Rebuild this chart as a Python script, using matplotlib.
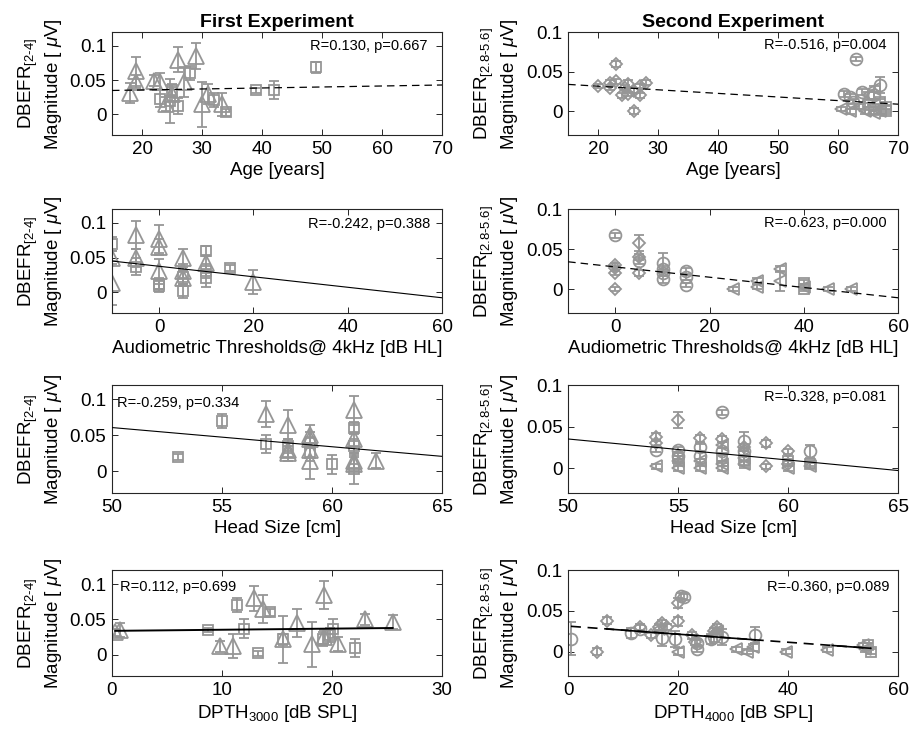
import numpy as np
import matplotlib
matplotlib.use("Agg")
import matplotlib.pyplot as plt

plt.rcParams['font.family'] = ['Liberation Sans', 'DejaVu Sans']
plt.rcParams['mathtext.fontset'] = 'custom'
plt.rcParams['mathtext.rm'] = 'Liberation Sans'
plt.rcParams['mathtext.it'] = 'Liberation Sans:italic'
plt.rcParams['mathtext.bf'] = 'Liberation Sans:bold'

# marker codes: ^ triangle, s square, D diamond, o circle, < left triangle
# --- first experiment, age
p1_x = [18, 19, 19, 22, 23, 24, 25, 26, 27, 29, 30, 31, 33.3,
        23, 24.7, 26, 25, 28, 32, 34, 39, 42, 49]
p1_y = [0.031, 0.063, 0.048, 0.049, 0.048, 0.015, 0.03, 0.08, 0.047, 0.085, 0.015, 0.03, 0.015,
        0.023, 0.02, 0.012, 0.035, 0.06, 0.021, 0.003, 0.035, 0.036, 0.069]
p1_e = [0.015, 0.021, 0.01, 0.008, 0.013, 0.01, 0.01, 0.018, 0.022, 0.019, 0.033, 0.015, 0.017,
        0.012, 0.032, 0.012, 0.01, 0.01, 0.01, 0.005, 0.004, 0.013, 0.008]
p1_m = "^^^^^^^^^^^^^" + "ssssssssss"

# --- second experiment, age
p2_x = [20, 22, 22, 23, 23, 24, 24.5, 25, 25, 26, 26, 27, 27, 28,
        61, 62, 63, 64, 66, 67, 62.5,
        60.5, 62, 63.5, 65, 66, 64.5, 66, 67,
        65, 66, 67, 68, 68]
p2_y = [0.032, 0.036, 0.03, 0.06, 0.038, 0.02, 0.03, 0.035, 0.022, 0.0, 0.026, 0.032, 0.02, 0.036,
        0.022, 0.018, 0.066, 0.024, 0.02, 0.033, 0.012,
        0.003, 0.0, 0.006, 0.02, 0.028, 0.0, -0.002, 0.0,
        0.008, 0.003, 0.012, 0.005, 0.0]
p2_e = [0.003, 0.004, 0.003, 0.004, 0.003, 0.003, 0.003, 0.004, 0.003, 0.004, 0.003, 0.003, 0.003, 0.003,
        0.004, 0.004, 0.003, 0.004, 0.004, 0.01, 0.003,
        0.003, 0.003, 0.003, 0.004, 0.004, 0.003, 0.003, 0.003,
        0.003, 0.003, 0.004, 0.003, 0.003]
p2_m = "DDDDDDDDDDDDDD" + "ooooooo" + "<<<<<<<<" + "sssss"

# --- first experiment, audiometric thresholds
p3_x = [-10, -5, 0, 0, 5, 5, 10, 10, 10, 15,
        -10, -10, -5, -5, 0, 0, 0, 5, 5, 5, 10, 20]
p3_y = [0.07, 0.037, 0.012, 0.009, 0.002, 0.022, 0.06, 0.03, 0.02, 0.035,
        0.05, 0.013, 0.082, 0.05, 0.077, 0.065, 0.03, 0.05, 0.03, 0.02, 0.042, 0.015]
p3_e = [0.01, 0.012, 0.008, 0.008, 0.01, 0.01, 0.006, 0.01, 0.013, 0.004,
        0.01, 0.032, 0.02, 0.013, 0.02, 0.012, 0.018, 0.013, 0.01, 0.01, 0.01, 0.017]
p3_m = "ssssssssss" + "^^^^^^^^^^^^"

# --- second experiment, audiometric thresholds
p4_x = [0, 5, 10, 10, 10, 10, 15, 15, 15,
        0, 0, 0, 5, 5, 5, 0,
        25, 30, 30, 35, 35, 40, 45, 50,
        40, 40]
p4_y = [0.067, 0.035, 0.033, 0.025, 0.02, 0.012, 0.022, 0.015, 0.005,
        0.03, 0.02, 0.0, 0.058, 0.04, 0.02, 0.026,
        0.0, 0.01, 0.003, 0.025, 0.01, 0.003, 0.0, 0.0,
        0.008, 0.0]
p4_e = [0.003, 0.004, 0.012, 0.004, 0.004, 0.004, 0.004, 0.004, 0.003,
        0.003, 0.003, 0.003, 0.01, 0.004, 0.004, 0.003,
        0.003, 0.004, 0.003, 0.004, 0.012, 0.003, 0.003, 0.003,
        0.003, 0.003]
p4_m = "ooooooooo" + "DDDDDDD" + "<<<<<<<<" + "ss"

# --- first experiment, head size
p5_x = [53, 55, 57, 58, 59, 59, 60, 61, 61, 61,
        57, 58, 58, 58, 59, 59, 59, 59, 61, 61, 61, 61, 62]
p5_y = [0.02, 0.07, 0.038, 0.035, 0.025, 0.04, 0.01, 0.06, 0.035, 0.003,
        0.08, 0.065, 0.03, 0.025, 0.05, 0.045, 0.03, 0.015, 0.085, 0.045, 0.015, 0.01, 0.015]
p5_e = [0.004, 0.01, 0.012, 0.01, 0.01, 0.008, 0.013, 0.008, 0.01, 0.02,
        0.018, 0.02, 0.01, 0.01, 0.015, 0.01, 0.01, 0.025, 0.02, 0.01, 0.01, 0.01, 0.01]
p5_m = "ssssssssss" + "^^^^^^^^^^^^^"

# --- second experiment, head size
p6_x = [54, 54, 55, 56, 57, 58, 59, 59, 60, 60,
        54, 55, 55, 56, 56, 57, 57, 58, 58, 61,
        54, 55, 55, 56, 56, 57, 57, 57, 58, 58, 60, 61,
        55, 57, 58, 60, 61]
p6_y = [0.038, 0.03, 0.058, 0.036, 0.035, 0.025, 0.03, 0.002, 0.02, 0.005,
        0.022, 0.022, 0.015, 0.025, 0.015, 0.067, 0.02, 0.033, 0.02, 0.02,
        0.002, 0.0, 0.008, 0.0, 0.008, 0.0, 0.005, 0.028, 0.005, 0.012, 0.0, 0.003,
        0.012, 0.012, 0.01, 0.008, 0.005]
p6_e = [0.004, 0.003, 0.01, 0.004, 0.004, 0.004, 0.004, 0.003, 0.003, 0.003,
        0.003, 0.004, 0.004, 0.004, 0.004, 0.003, 0.004, 0.01, 0.004, 0.008,
        0.003, 0.003, 0.003, 0.003, 0.003, 0.003, 0.003, 0.004, 0.003, 0.003, 0.003, 0.003,
        0.003, 0.004, 0.01, 0.003, 0.003]
p6_m = "DDDDDDDDDD" + "oooooooooo" + "<<<<<<<<<<<<" + "sssss"

# --- first experiment, DPTH 3000
p7_x = [0.3, 0.7, 9.8, 11, 12.9, 13.7, 15.5, 16.8, 18.2, 19.3, 19.3, 20.5, 23, 25.5,
        8.7, 11.4, 12, 13.3, 14.4, 15.5, 19.2, 19.8, 20.1, 22.1]
p7_y = [0.032, 0.035, 0.012, 0.012, 0.08, 0.065, 0.022, 0.045, 0.015, 0.085, 0.025, 0.015, 0.05, 0.047,
        0.035, 0.07, 0.037, 0.002, 0.06, 0.022, 0.022, 0.028, 0.037, 0.01]
p7_e = [0.005, 0.01, 0.008, 0.017, 0.018, 0.02, 0.033, 0.02, 0.032, 0.02, 0.01, 0.01, 0.008, 0.01,
        0.003, 0.01, 0.013, 0.003, 0.005, 0.008, 0.01, 0.01, 0.013, 0.013]
p7_m = "^^^^^^^^^^^^^^" + "ssssssssss"

# --- second experiment, DPTH 4000
p8_x = [0.5, 11.5, 13, 17, 19.5, 20.5, 21, 23.5, 23.5, 26, 26.5, 28, 34,
        5.3, 7, 13, 15, 16.5, 17, 18, 20, 20, 22.5, 23, 26.5, 27,
        16.5, 20, 27, 30.5, 32.5, 33.5, 39.5, 47, 53.5, 54,
        54.5, 55]
p8_y = [0.016, 0.023, 0.028, 0.017, 0.015, 0.068, 0.067, 0.003, 0.01, 0.015, 0.018, 0.018, 0.02,
        0.0, 0.038, 0.03, 0.02, 0.03, 0.035, 0.03, 0.037, 0.06, 0.02, 0.012, 0.025, 0.03,
        0.028, 0.0, 0.025, 0.003, 0.0, 0.005, 0.0, 0.002, 0.008, 0.003,
        0.008, 0.0]
p8_e = [0.02, 0.006, 0.004, 0.01, 0.01, 0.004, 0.004, 0.004, 0.004, 0.006, 0.006, 0.01, 0.01,
        0.004, 0.004, 0.004, 0.003, 0.004, 0.004, 0.004, 0.006, 0.006, 0.004, 0.004, 0.004, 0.004,
        0.004, 0.004, 0.004, 0.003, 0.003, 0.004, 0.003, 0.003, 0.003, 0.003,
        0.003, 0.003]
p8_m = "ooooooooooooo" + "DDDDDDDDDDDDD" + "<<<<<<<<<<" + "ss"

# regression lines: (intercept, slope)
fits = [(0.0328, 0.000145), (0.0408, -0.000455),
        (0.0374, -0.000757), (0.0276, -0.000643),
        (0.1943, -0.002667), (0.1617, -0.002533),
        (0.0339, 0.000159), (0.0312, -0.000495)]
fit_ranges = [(15, 70), (15, 70), (-10, 60), (-10, 60), (50, 65), (50, 65), (0.3, 25.5), (0.5, 55)]
stats = ["R=0.130, p=0.667", "R=-0.516, p=0.004",
         "R=-0.242, p=0.388", "R=-0.623, p=0.000",
         "R=-0.259, p=0.334", "R=-0.328, p=0.081",
         "R=0.112, p=0.699", "R=-0.360, p=0.089"]
xlabels = ["Age [years]", "Age [years]",
           "Audiometric Thresholds@ 4kHz [dB HL]", "Audiometric Thresholds@ 4kHz [dB HL]",
           "Head Size [cm]", "Head Size [cm]",
           "DPTH$_{3000}$ [dB SPL]", "DPTH$_{4000}$ [dB SPL]"]
xlims = [(15, 70), (15, 70), (-10, 60), (-10, 60), (50, 65), (50, 65), (0, 30), (0, 60)]
xticks = [[20, 30, 40, 50, 60, 70], [20, 30, 40, 50, 60, 70],
          [0, 20, 40, 60], [0, 20, 40, 60],
          [50, 55, 60, 65], [50, 55, 60, 65],
          [0, 10, 20, 30], [0, 20, 40, 60]]

GRAY = '#969696'
MS = {'^': 12, 's': 7.5, 'D': 6.5, 'o': 8.5, '<': 9}


def draw_points(ax, x, y, e, m):
    x, y, e = np.array(x), np.array(y), np.array(e)
    codes = np.array(list(m))
    for mk in dict.fromkeys(m):
        sel = codes == mk
        ax.errorbar(x[sel], y[sel], yerr=e[sel], fmt=mk, ms=MS[mk], mfc='none',
                    mec=GRAY, mew=1.3, ecolor=GRAY, elinewidth=1.3,
                    capsize=3.5, capthick=1.3, zorder=2)


fig = plt.figure(figsize=(9.12, 7.51), dpi=100)
lefts = [0.1228, 0.623]
bottoms = [0.8202, 0.5832, 0.3435, 0.0999]
heights = [0.137, 0.1385, 0.1438, 0.141]

panels = [(p1_x, p1_y, p1_e, p1_m), (p2_x, p2_y, p2_e, p2_m),
          (p3_x, p3_y, p3_e, p3_m), (p4_x, p4_y, p4_e, p4_m),
          (p5_x, p5_y, p5_e, p5_m), (p6_x, p6_y, p6_e, p6_m),
          (p7_x, p7_y, p7_e, p7_m), (p8_x, p8_y, p8_e, p8_m)]
line_styles = ['dash', 'dash', 'solid', 'dash', 'solid', 'solid', 'thick', 'mixed']
stat_pos = [(0.955, 0.87, 'right'), (0.964, 0.874, 'right'),
            (0.964, 0.856, 'right'), (0.964, 0.865, 'right'),
            (0.015, 0.833, 'left'), (0.964, 0.886, 'right'),
            (0.024, 0.84, 'left'), (0.973, 0.84, 'right')]
solid_parts = [(7, 34), (48, 55)]

for k in range(8):
    row, col = k // 2, k % 2
    ax = fig.add_axes([lefts[col], bottoms[row], 0.362, heights[row]])
    x, y, e, m = panels[k]
    draw_points(ax, x, y, e, m)

    b0, b1 = fits[k]
    xs = np.array(fit_ranges[k], dtype=float)
    st = line_styles[k]
    if st == 'dash':
        ax.plot(xs, b0 + b1 * xs, color='black', lw=0.9, dashes=(6, 4), zorder=3)
    elif st == 'solid':
        ax.plot(xs, b0 + b1 * xs, color='black', lw=0.8, zorder=3)
    elif st == 'thick':
        ax.plot(xs, b0 + b1 * xs, color='black', lw=1.4, zorder=3)
    else:
        ax.plot(xs, b0 + b1 * xs, color='black', lw=1.2, dashes=(6, 4), zorder=3)
        for a, b in solid_parts:
            seg = np.array([a, b], dtype=float)
            ax.plot(seg, b0 + b1 * seg, color='black', lw=1.2, zorder=3)

    ax.set_xlim(*xlims[k])
    ax.set_xticks(xticks[k])
    if col == 0:
        ax.set_ylim(-0.03, 0.12)
        sub = r'[2\text{-}4]'
    else:
        ax.set_ylim(-0.03, 0.1)
        sub = r'[2.8\text{-}5.6]'
    ax.set_yticks([0, 0.05, 0.1])
    ax.set_yticklabels(['0', '0.05', '0.1'])
    ax.tick_params(direction='in', top=True, right=True, length=4, width=0.7,
                   labelsize=13.5, colors='#262626', labelcolor='black', pad=4)
    for sp in ax.spines.values():
        sp.set_linewidth(0.8)
        sp.set_color('#262626')
    ax.set_ylabel('DBEFR$_{' + sub + '}$\nMagnitude [ $\\mu$V]', fontsize=13.5, labelpad=4)
    ax.set_xlabel(xlabels[k], fontsize=13.5, labelpad=3)
    tx, ty, ha = stat_pos[k]
    ax.text(tx, ty, stats[k], transform=ax.transAxes, ha=ha, va='center', fontsize=10.5)
    if row == 0:
        ax.set_title('First Experiment' if col == 0 else 'Second Experiment',
                     fontsize=14, fontweight='bold', pad=4)

fig.savefig('out.png', dpi=100)
